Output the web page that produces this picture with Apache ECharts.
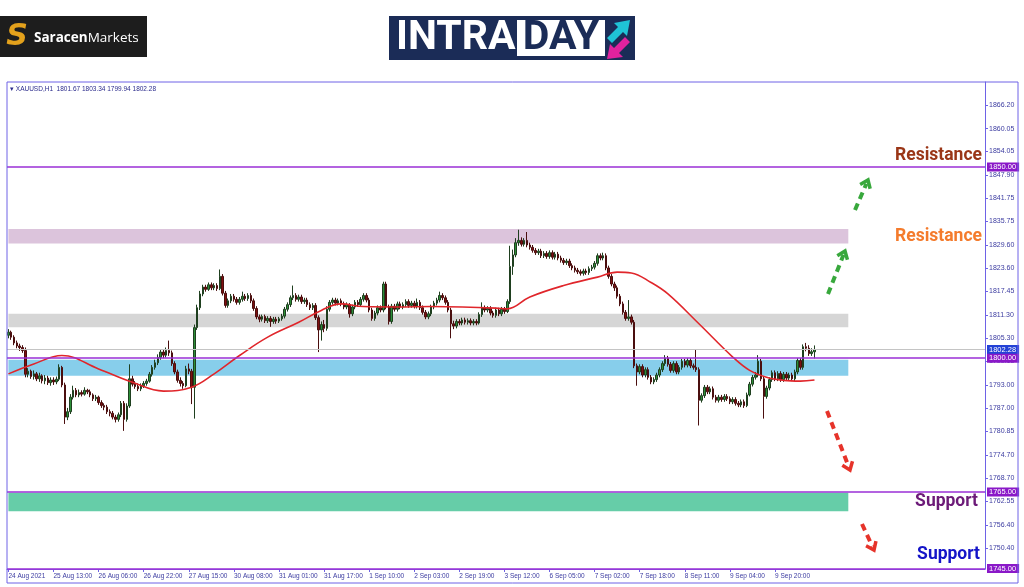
<!DOCTYPE html>
<html><head><meta charset="utf-8">
<script src="https://cdn.jsdelivr.net/npm/echarts@6/dist/echarts.min.js"></script>
<style>html,body{margin:0;padding:0;background:#fff}#c{width:1024px;height:587px}</style>
</head><body><div id="c"></div>
<script>
// ---------------- DATA ----------------
const symbol = 'XAUUSD', timeframe = 'H1';
const tickLabels = ['24 Aug 2021','25 Aug 13:00','26 Aug 06:00','26 Aug 22:00','27 Aug 15:00','30 Aug 08:00',
  '31 Aug 01:00','31 Aug 17:00','1 Sep 10:00','2 Sep 03:00','2 Sep 19:00','3 Sep 12:00','6 Sep 05:00',
  '7 Sep 02:00','7 Sep 18:00','8 Sep 11:00','9 Sep 04:00','9 Sep 20:00'];
const barsPerTick = 16;
const totalSlots = 347;   // visible bar slots incl. empty right shift
const yTicks = [1866.20,1860.05,1854.05,1847.90,1841.75,1835.75,1829.60,1823.60,1817.45,1811.30,1805.30,
  1799.15,1793.00,1787.00,1780.85,1774.70,1768.70,1762.55,1756.40,1750.40];
const yMin = 1744.87, yMax = 1872.23;

// candles: [open, close, low, high], one array per 16-bar time-label block
const seg_24Aug20 = [[1806.0,1806.8,1805.2,1807.6],[1806.8,1805.5,1804.8,1807.2],[1805.5,1804.0,1803.4,1806.0],[1804.0,1803.2,1802.6,1804.6],[1803.2,1802.8,1801.9,1803.8],[1802.8,1802.0,1801.4,1803.4],[1802.0,1795.8,1795.0,1802.8],[1795.8,1796.6,1795.0,1797.4],[1796.6,1795.2,1794.6,1797.0],[1795.2,1795.9,1794.4,1796.8],[1795.9,1794.6,1794.0,1796.4],[1794.6,1795.4,1793.8,1796.2],[1795.4,1794.1,1793.4,1795.8],[1794.1,1794.8,1793.2,1795.6],[1794.8,1793.6,1793.0,1795.4],[1793.6,1794.3,1792.8,1795.0]];
const seg_25Aug13 = [[1794.3,1793.8,1793.0,1795.0],[1793.8,1794.5,1793.2,1795.2],[1794.5,1797.6,1794.0,1798.4],[1797.6,1793.0,1792.4,1798.0],[1793.0,1784.6,1782.8,1793.6],[1784.6,1786.0,1783.8,1787.0],[1786.0,1789.8,1785.4,1790.6],[1789.8,1791.6,1789.2,1792.8],[1791.6,1790.4,1789.8,1792.2],[1790.4,1791.0,1789.8,1791.8],[1791.0,1790.6,1790.0,1791.6],[1790.6,1791.6,1790.2,1792.4],[1791.6,1791.2,1790.6,1792.0],[1791.2,1790.4,1789.8,1791.8],[1790.4,1789.4,1788.8,1790.8],[1789.4,1789.8,1788.8,1790.4]];
const seg_26Aug06 = [[1789.8,1788.4,1787.8,1790.2],[1788.4,1787.6,1787.0,1789.0],[1787.6,1787.2,1786.4,1788.2],[1787.2,1786.0,1785.4,1787.8],[1786.0,1785.6,1784.8,1786.6],[1785.6,1784.6,1784.0,1786.2],[1784.6,1784.0,1783.2,1785.2],[1784.0,1785.2,1783.4,1785.8],[1785.2,1788.2,1784.6,1788.8],[1788.2,1784.0,1781.0,1788.8],[1784.0,1787.5,1783.4,1788.2],[1787.5,1794.6,1787.0,1798.4],[1794.6,1793.2,1792.6,1795.4],[1793.2,1792.6,1792.0,1794.0],[1792.6,1792.0,1791.4,1793.4],[1792.0,1792.8,1791.4,1793.4]];
const seg_26Aug22 = [[1792.8,1793.4,1792.2,1794.0],[1793.4,1794.0,1792.8,1794.6],[1794.0,1795.8,1793.6,1796.4],[1795.8,1797.6,1795.2,1798.2],[1797.6,1798.8,1797.0,1799.6],[1798.8,1800.2,1798.2,1801.0],[1800.2,1801.6,1799.6,1802.4],[1801.6,1800.8,1800.0,1802.2],[1800.8,1802.0,1800.2,1802.8],[1802.0,1801.4,1800.6,1804.6],[1801.4,1798.6,1798.0,1802.0],[1798.6,1796.4,1795.8,1799.2],[1796.4,1794.2,1793.6,1797.0],[1794.2,1793.4,1792.6,1795.0],[1793.4,1792.8,1792.0,1794.0],[1792.8,1797.2,1792.4,1798.0]];
const seg_27Aug15 = [[1797.2,1796.6,1795.8,1798.6],[1796.6,1792.4,1788.0,1797.2],[1792.4,1808.0,1784.2,1808.8],[1808.0,1813.2,1807.4,1814.0],[1813.2,1816.8,1812.6,1817.6],[1816.8,1818.6,1816.2,1819.2],[1818.6,1818.0,1817.4,1819.2],[1818.0,1819.2,1817.6,1819.8],[1819.2,1818.4,1817.8,1819.8],[1818.4,1819.0,1817.8,1819.6],[1819.0,1818.2,1817.6,1819.6],[1818.2,1821.4,1817.8,1823.2],[1821.4,1817.0,1816.4,1822.0],[1817.0,1813.8,1813.2,1817.6],[1813.8,1815.0,1813.2,1815.6],[1815.0,1816.2,1814.4,1816.8]];
const seg_30Aug08 = [[1816.2,1815.4,1814.8,1816.8],[1815.4,1814.6,1814.0,1816.0],[1814.6,1815.4,1814.0,1816.0],[1815.4,1816.2,1814.8,1817.4],[1816.2,1815.6,1815.0,1816.8],[1815.6,1816.4,1815.0,1817.0],[1816.4,1815.0,1814.4,1817.0],[1815.0,1813.0,1812.4,1815.6],[1813.0,1810.8,1810.2,1813.6],[1810.8,1810.2,1809.4,1811.4],[1810.2,1810.9,1809.6,1811.4],[1810.9,1809.8,1809.2,1811.4],[1809.8,1810.4,1809.2,1811.0],[1810.4,1809.6,1808.2,1811.0],[1809.6,1810.2,1809.0,1810.8],[1810.2,1809.7,1809.0,1810.8]];
const seg_31Aug01 = [[1809.7,1810.3,1809.2,1810.8],[1810.3,1811.0,1809.8,1811.6],[1811.0,1812.8,1810.4,1813.4],[1812.8,1814.0,1812.2,1814.6],[1814.0,1815.8,1813.4,1816.4],[1815.8,1816.4,1815.2,1819.0],[1816.4,1815.4,1814.8,1817.0],[1815.4,1816.0,1814.8,1816.6],[1816.0,1814.8,1814.2,1816.6],[1814.8,1815.2,1814.2,1815.8],[1815.2,1814.0,1813.4,1815.8],[1814.0,1813.2,1812.6,1814.6],[1813.2,1813.8,1812.6,1814.4],[1813.8,1810.6,1810.0,1814.4],[1810.6,1807.4,1801.6,1811.2],[1807.4,1808.8,1804.6,1809.6]];
const seg_31Aug17 = [[1808.8,1807.8,1806.8,1810.0],[1807.8,1812.8,1807.2,1813.6],[1812.8,1814.6,1812.2,1815.2],[1814.6,1815.2,1814.0,1815.8],[1815.2,1814.4,1813.8,1815.8],[1814.4,1815.0,1813.8,1815.6],[1815.0,1814.2,1813.6,1815.6],[1814.2,1813.4,1812.8,1814.8],[1813.4,1814.0,1812.8,1814.6],[1814.0,1811.6,1810.6,1814.4],[1811.6,1813.4,1811.0,1814.0],[1813.4,1814.6,1812.8,1815.2],[1814.6,1814.0,1813.4,1815.2],[1814.0,1815.4,1813.6,1816.0],[1815.4,1816.4,1814.8,1817.0],[1816.4,1815.2,1814.6,1817.0]];
const seg_1Sep10 = [[1815.2,1812.6,1812.0,1815.8],[1812.6,1810.4,1809.8,1813.2],[1810.4,1811.8,1809.8,1812.4],[1811.8,1813.2,1811.2,1813.8],[1813.2,1812.6,1812.0,1813.8],[1812.6,1819.4,1812.0,1820.0],[1819.4,1813.4,1812.8,1820.0],[1813.4,1809.6,1808.8,1814.0],[1809.6,1813.6,1809.0,1814.2],[1813.6,1812.8,1812.2,1814.2],[1812.8,1814.2,1812.2,1814.8],[1814.2,1813.4,1812.8,1814.8],[1813.4,1814.0,1812.8,1814.6],[1814.0,1814.8,1813.4,1815.4],[1814.8,1813.8,1813.2,1815.4],[1813.8,1814.4,1813.2,1815.0]];
const seg_2Sep03 = [[1814.4,1813.6,1813.0,1815.0],[1813.6,1814.6,1813.0,1815.6],[1814.6,1813.2,1812.6,1815.2],[1813.2,1812.0,1811.4,1813.8],[1812.0,1810.8,1810.2,1812.6],[1810.8,1811.6,1810.2,1812.2],[1811.6,1813.4,1811.0,1814.0],[1813.4,1814.4,1812.8,1815.0],[1814.4,1815.2,1813.8,1815.8],[1815.2,1816.4,1814.6,1817.4],[1816.4,1815.8,1815.2,1817.0],[1815.8,1814.6,1814.0,1816.4],[1814.6,1812.6,1812.0,1815.2],[1812.6,1809.0,1805.2,1813.2],[1809.0,1808.4,1807.6,1809.8],[1808.4,1809.6,1807.8,1810.2]];
const seg_2Sep19 = [[1809.6,1809.2,1808.6,1810.2],[1809.2,1810.0,1808.6,1810.6],[1810.0,1809.4,1808.8,1810.6],[1809.4,1809.8,1808.8,1810.4],[1809.8,1809.2,1808.6,1810.4],[1809.2,1809.6,1808.6,1810.2],[1809.6,1809.2,1808.6,1810.2],[1809.2,1811.4,1808.8,1812.0],[1811.4,1813.2,1810.8,1814.6],[1813.2,1812.6,1812.0,1813.8],[1812.6,1813.0,1812.0,1813.6],[1813.0,1811.8,1811.2,1813.6],[1811.8,1811.2,1810.6,1812.4],[1811.2,1812.6,1810.6,1813.2],[1812.6,1811.6,1811.0,1813.2],[1811.6,1812.8,1811.0,1813.4]];
const seg_3Sep12 = [[1812.8,1812.2,1811.6,1813.4],[1812.2,1814.8,1811.8,1815.4],[1814.8,1824.0,1814.2,1829.4],[1824.0,1827.0,1821.8,1828.4],[1827.0,1830.2,1826.4,1831.4],[1830.2,1830.8,1829.4,1833.6],[1830.8,1829.8,1829.2,1831.6],[1829.8,1830.8,1829.2,1831.4],[1830.8,1829.6,1829.0,1833.0],[1829.6,1829.0,1828.4,1830.2],[1829.0,1828.2,1827.6,1829.6],[1828.2,1827.6,1827.0,1828.8],[1827.6,1828.0,1827.0,1828.6],[1828.0,1826.8,1826.2,1828.6],[1826.8,1827.4,1826.2,1828.0],[1827.4,1826.6,1826.0,1828.0]];
const seg_6Sep05 = [[1826.6,1827.6,1826.0,1828.2],[1827.6,1826.4,1825.8,1828.2],[1826.4,1827.2,1825.8,1827.8],[1827.2,1826.2,1825.6,1827.8],[1826.2,1825.6,1825.0,1826.8],[1825.6,1825.0,1824.4,1826.2],[1825.0,1825.4,1824.4,1826.0],[1825.4,1824.2,1823.6,1826.0],[1824.2,1823.6,1823.0,1824.8],[1823.6,1823.0,1822.4,1824.2],[1823.0,1822.6,1822.0,1823.6],[1822.6,1822.2,1821.6,1823.2],[1822.2,1822.8,1821.6,1823.4],[1822.8,1822.4,1821.8,1823.4],[1822.4,1823.4,1821.8,1824.0],[1823.4,1823.8,1822.8,1824.4]];
const seg_7Sep02 = [[1823.8,1824.8,1823.2,1825.4],[1824.8,1826.8,1824.2,1827.4],[1826.8,1826.2,1825.6,1827.4],[1826.2,1826.8,1825.6,1827.6],[1826.8,1823.6,1823.0,1827.4],[1823.6,1821.4,1820.8,1824.2],[1821.4,1819.4,1818.8,1822.0],[1819.4,1818.4,1817.6,1820.0],[1818.4,1816.2,1815.6,1819.0],[1816.2,1814.2,1813.6,1816.8],[1814.2,1812.0,1811.4,1814.8],[1812.0,1810.4,1809.8,1812.6],[1810.4,1810.8,1809.8,1815.2],[1810.8,1809.4,1808.8,1811.4],[1809.4,1798.0,1797.4,1810.0],[1798.0,1796.4,1792.8,1798.6]];
const seg_7Sep18 = [[1796.4,1797.8,1795.8,1798.4],[1797.8,1795.6,1795.0,1798.4],[1795.6,1797.0,1795.0,1797.6],[1797.0,1795.0,1794.4,1797.6],[1795.0,1793.8,1793.2,1795.6],[1793.8,1794.4,1793.2,1795.0],[1794.4,1795.6,1793.8,1796.2],[1795.6,1797.0,1795.0,1797.6],[1797.0,1798.6,1796.4,1799.2],[1798.6,1800.0,1798.0,1800.8],[1800.0,1798.4,1797.8,1800.6],[1798.4,1796.8,1796.2,1799.0],[1796.8,1798.6,1796.2,1799.2],[1798.6,1796.4,1795.8,1799.2],[1796.4,1797.6,1795.8,1798.2],[1797.6,1799.2,1797.0,1799.8]];
const seg_8Sep11 = [[1799.2,1798.2,1797.6,1799.8],[1798.2,1799.4,1797.6,1800.0],[1799.4,1798.0,1797.4,1800.0],[1798.0,1797.6,1797.0,1798.6],[1797.6,1797.0,1796.4,1802.4],[1797.0,1789.0,1782.4,1797.6],[1789.0,1790.2,1788.4,1790.8],[1790.2,1792.4,1789.6,1793.0],[1792.4,1791.2,1790.6,1793.0],[1791.2,1792.0,1790.6,1792.6],[1792.0,1789.8,1789.2,1792.6],[1789.8,1789.0,1788.4,1790.4],[1789.0,1789.8,1788.4,1790.4],[1789.8,1789.2,1788.6,1790.4],[1789.2,1790.0,1788.6,1790.6],[1790.0,1789.4,1788.8,1790.6]];
const seg_9Sep04 = [[1789.4,1788.6,1788.0,1790.0],[1788.6,1789.2,1788.0,1789.8],[1789.2,1788.2,1787.6,1789.8],[1788.2,1787.8,1787.2,1788.8],[1787.8,1788.6,1787.2,1789.2],[1788.6,1787.6,1787.0,1789.2],[1787.6,1790.4,1787.2,1791.0],[1790.4,1793.2,1790.0,1793.8],[1793.2,1795.0,1792.6,1795.6],[1795.0,1795.6,1794.4,1796.4],[1795.6,1799.2,1795.0,1800.8],[1799.2,1794.6,1794.0,1799.8],[1794.6,1790.0,1784.2,1795.2],[1790.0,1792.2,1789.4,1792.8],[1792.2,1794.4,1791.6,1795.0],[1794.4,1796.2,1793.8,1796.8]];
const seg_9Sep20 = [[1796.2,1794.6,1794.0,1796.8],[1794.6,1796.0,1794.0,1796.6],[1796.0,1794.4,1793.8,1796.6],[1794.4,1795.8,1793.8,1796.4],[1795.8,1794.8,1794.2,1796.4],[1794.8,1795.6,1794.2,1796.2],[1795.6,1794.6,1794.0,1796.2],[1794.6,1796.4,1794.0,1797.0],[1796.4,1799.4,1795.8,1800.0],[1799.4,1797.6,1797.0,1800.0],[1797.6,1803.0,1797.0,1803.6],[1803.0,1802.6,1801.8,1804.0],[1802.6,1801.2,1800.6,1803.4],[1801.2,1801.67,1800.6,1802.6],[1801.67,1802.28,1799.94,1803.34]];

// moving average: [bar index, value]
const maPoints = [[0,1795.9],[9,1798.5],[19,1800.7],[32,1797.2],[44,1793.7],[55,1791.4],[65,1792.4],[73,1795.9],[82,1800.7],[92,1805.5],[103,1809.4],[111,1812.5],[118,1814.2],[126,1813.5],[138,1813.4],[150,1813.5],[161,1813.4],[173,1813.1],[177,1812.9],[185,1816.0],[197,1819.0],[209,1821.2],[216,1822.5],[221,1822.3],[228,1819.8],[234,1816.8],[245,1809.0],[257,1800.3],[263,1796.8],[269,1795.0],[275,1794.2],[281,1794.0],[286,1794.3]];

// horizontal levels and zones
const levelLines = [1850.00, 1800.00, 1765.00, 1745.00];
const zoneRanges = [[1833.8,1830.0],[1811.6,1808.1],[1799.6,1795.4],[1764.8,1760.0]];
const zoneEndBar = 298;

// ---------------- STYLE / BUILD ----------------
const candles = [].concat(seg_24Aug20,seg_25Aug13,seg_26Aug06,seg_26Aug22,seg_27Aug15,seg_30Aug08,seg_31Aug01,
  seg_31Aug17,seg_1Sep10,seg_2Sep03,seg_2Sep19,seg_3Sep12,seg_6Sep05,seg_7Sep02,seg_7Sep18,seg_8Sep11,seg_9Sep04,seg_9Sep20);
const last = candles[candles.length-1];
const lastClose = last[1];
const categories = Array.from({length: totalSlots}, (_, i) => 'b' + i);
const axisColor = '#6e62e6';
const labelColor = '#3b3ba0';
const levelColor = '#9a2fd6';
const zoneColors = ['#dcc4dc','#d6d6d6','#87ceeb','#66cda8'];

function arrow(x1,y1,x2,y2,color){
  const dx = x2-x1, dy = y2-y1, len = Math.hypot(dx,dy), ux = dx/len, uy = dy/len;
  const hl = 9, a = 0.65;
  const bx = -ux, by = -uy;
  const p1 = [x2 + hl*(bx*Math.cos(a) - by*Math.sin(a)), y2 + hl*(bx*Math.sin(a) + by*Math.cos(a))];
  const p2 = [x2 + hl*(bx*Math.cos(-a) - by*Math.sin(-a)), y2 + hl*(bx*Math.sin(-a) + by*Math.cos(-a))];
  return [
    {type:'line', shape:{x1:x1,y1:y1,x2:x2-ux*4,y2:y2-uy*4}, style:{stroke:color,lineWidth:4,lineDash:[7,5]}},
    {type:'polyline', shape:{points:[p1,[x2,y2],p2]}, style:{stroke:color,lineWidth:3.5,fill:null}}
  ];
}

const chart = echarts.init(document.getElementById('c'), null, {renderer:'canvas'});
const zoneData = zoneRanges.map((z,i)=>[{xAxis:0,yAxis:z[0],itemStyle:{color:zoneColors[i],opacity:1}},{xAxis:zoneEndBar,yAxis:z[1]}]);
const priceLabel = (bg)=>({show:true,position:'end',distance:2,formatter:p=>p.value.toFixed(2),color:'#fff',backgroundColor:bg,fontSize:7.5,fontFamily:'Liberation Sans',padding:[1,3,0,2]});

chart.setOption({
  animation:false,
  backgroundColor:'#ffffff',
  grid:{left:7,right:39,top:82,bottom:18,containLabel:false},
  xAxis:{type:'category',data:categories,boundaryGap:true,
    axisLine:{show:true,lineStyle:{color:axisColor,width:1}},
    axisTick:{show:true,alignWithLabel:true,length:3,interval:(i)=>i%barsPerTick===0 && i/barsPerTick<tickLabels.length,lineStyle:{color:axisColor}},
    axisLabel:{show:true,interval:(i)=>i%barsPerTick===0 && i/barsPerTick<tickLabels.length,
      formatter:(v)=>{const i=parseInt(v.slice(1));return tickLabels[i/barsPerTick]||'';},
      align:'left',margin:4,color:labelColor,fontSize:6.5,fontFamily:'Liberation Sans'},
    splitLine:{show:false}},
  yAxis:{type:'value',position:'right',min:yMin,max:yMax,scale:true,
    axisLine:{show:true,lineStyle:{color:axisColor,width:1}},
    axisTick:{show:true,length:3,customValues:yTicks,lineStyle:{color:axisColor}},
    axisLabel:{show:true,customValues:yTicks,formatter:v=>v.toFixed(2),color:labelColor,fontSize:7,fontFamily:'Liberation Sans',margin:4},
    splitLine:{show:false}},
  series:[
    {type:'candlestick',name:'zones',data:[],
      markArea:{silent:true,z:0,data:zoneData}},
    {type:'line',name:'bid',data:[],
      markLine:{silent:true,symbol:['none','none'],
        data:[{yAxis:lastClose,lineStyle:{color:'#c4c4c4',width:1,type:'solid'},label:priceLabel('#2442d6')}]}},
    {type:'candlestick',name:symbol,data:candles,barWidth:2,
      itemStyle:{color:'#2c8f38',color0:'#7e1010',borderColor:'#1f3f1f',borderColor0:'#4a0e0e',borderWidth:1},
      z:3},
    {type:'line',name:'MA',data:maPoints,smooth:0.4,showSymbol:false,lineStyle:{color:'#e0262b',width:1.6},z:4},
    {type:'line',name:'levels',data:[],
      markLine:{silent:true,symbol:['none','none'],
        data:levelLines.map(v=>({yAxis:v,lineStyle:{color:levelColor,width:1.6,type:'solid'},label:priceLabel('#8a18c8')}))},z:5}
  ],
  graphic:[
    {type:'rect',shape:{x:7,y:82,width:1011,height:501},style:{fill:null,stroke:axisColor,lineWidth:1},z:100},
    {type:'text',style:{x:10,y:89,text:'\u25BE '+symbol+','+timeframe+'  '+last[0].toFixed(2)+' '+last[3].toFixed(2)+' '+last[2].toFixed(2)+' '+last[1].toFixed(2),
      fill:'#2b2b8c',font:'6.5px "Liberation Sans"',verticalAlign:'middle'}},
    // Saracen logo
    {type:'rect',shape:{x:0,y:16,width:147,height:41},style:{fill:'#1d1d1d'}},
    {type:'text',style:{x:17,y:37,text:'S',fill:'#e3a11c',font:'italic 900 30px "DejaVu Sans"',align:'center',verticalAlign:'middle'}},
    {type:'text',style:{x:34,y:38,text:'{b|Saracen}{n|Markets}',verticalAlign:'middle',
      rich:{b:{fill:'#fff',font:'bold 13.5px "Open Sans"'},n:{fill:'#fff',font:'13.5px "Open Sans"'}}}},
    // INTRADAY logo
    {type:'rect',shape:{x:389,y:16,width:246,height:44},style:{fill:'#1b2c57'}},
    {type:'text',style:{x:396,y:39,text:'INTRA',fill:'#fff',font:'bold 41px "Roboto"',verticalAlign:'middle'}},
    {type:'rect',shape:{x:517,y:20,width:88,height:36},style:{fill:'#fff'}},
    {type:'text',style:{x:561,y:39,text:'DAY',fill:'#1b2c57',font:'bold 41px "Roboto"',align:'center',verticalAlign:'middle'}},
    {type:'polygon',shape:{points:[[607,38],[618,27],[614,23],[630,20],[627,36],[623,32],[612,43]]},style:{fill:'#1fc3d6'}},
    {type:'polygon',shape:{points:[[630,42],[619,53],[623,57],[607,59],[610,44],[614,48],[625,37]]},style:{fill:'#e0229e'}},
    // annotations
    {type:'text',style:{x:982,y:156,text:'Resistance',fill:'#9a3617',font:'bold 17.5px "Roboto"',align:'right',verticalAlign:'middle'},z:50},
    {type:'text',style:{x:982,y:237,text:'Resistance',fill:'#f47b2c',font:'bold 17.5px "Roboto"',align:'right',verticalAlign:'middle'},z:50},
    {type:'text',style:{x:978,y:502,text:'Support',fill:'#6c1a78',font:'bold 17.5px "Roboto"',align:'right',verticalAlign:'middle'},z:50},
    {type:'text',style:{x:980,y:555,text:'Support',fill:'#1414c8',font:'bold 17.5px "Roboto"',align:'right',verticalAlign:'middle'},z:50},
    ...arrow(828,294,845,251,'#38a83c'),
    ...arrow(855,210,868,180,'#38a83c'),
    ...arrow(827,411,850,470,'#e6332a'),
    ...arrow(862,524,874,550,'#e6332a')
  ]
});
</script></body></html>
